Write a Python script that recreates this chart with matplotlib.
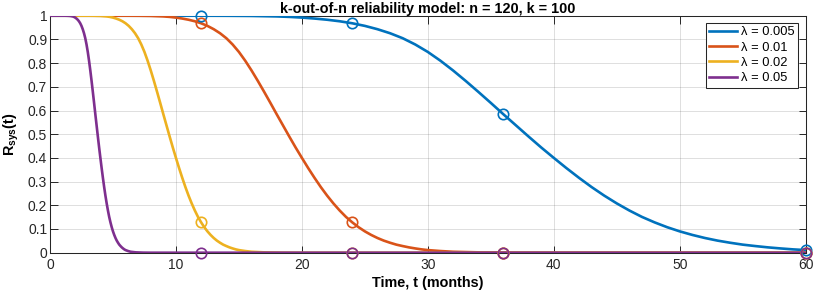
import matplotlib
matplotlib.use("Agg")
import matplotlib.pyplot as plt

plt.rcParams['font.family'] = ['Liberation Sans', 'DejaVu Sans']
plt.rcParams['mathtext.fontset'] = 'custom'
plt.rcParams['mathtext.rm'] = 'Liberation Sans'
plt.rcParams['mathtext.bf'] = 'Liberation Sans:bold'

# values
t_005 = [0, 12, 14, 16, 17, 18, 19, 20, 21, 22, 23, 24, 25, 26, 27, 28, 29, 30,
         31, 32, 33, 34, 35, 36, 37, 38, 39, 40, 41, 42, 43, 44, 45, 46, 47, 48,
         49, 50, 51, 52, 53, 54, 55, 56, 57, 58, 59, 60]
r_005 = [1.0, 1.0, 0.9997, 0.999, 0.998, 0.997, 0.995, 0.992, 0.988, 0.983,
         0.9765, 0.968, 0.957, 0.943, 0.926, 0.905, 0.8785, 0.847, 0.810, 0.769,
         0.725, 0.679, 0.632, 0.584, 0.537, 0.490, 0.444, 0.400, 0.357, 0.316,
         0.277, 0.241, 0.208, 0.178, 0.151, 0.128, 0.1076, 0.090, 0.075, 0.062,
         0.051, 0.042, 0.034, 0.028, 0.0225, 0.018, 0.014, 0.011]

t_01 = [0, 6, 7, 8, 8.5, 9, 9.5, 10, 10.5, 11, 11.5, 12, 12.5, 13, 13.5, 14,
        14.5, 15, 15.5, 16, 16.5, 17, 17.5, 18, 18.5, 19, 19.5, 20, 20.5, 21,
        21.5, 22, 22.5, 23, 23.5, 24, 24.5, 25, 25.5, 26, 26.5, 27, 27.5, 28,
        28.5, 29, 29.5, 30, 31, 32, 34, 37, 40, 60]
r_01 = [1.0, 1.0, 0.9997, 0.999, 0.998, 0.997, 0.995, 0.992, 0.988, 0.983,
        0.9765, 0.968, 0.957, 0.943, 0.926, 0.905, 0.8785, 0.847, 0.810, 0.769,
        0.725, 0.679, 0.632, 0.584, 0.537, 0.490, 0.444, 0.400, 0.357, 0.316,
        0.277, 0.241, 0.208, 0.178, 0.151, 0.128, 0.1076, 0.090, 0.075, 0.062,
        0.051, 0.042, 0.034, 0.028, 0.0225, 0.018, 0.014, 0.011, 0.007, 0.004,
        0.0015, 0.0003, 0.0, 0.0]

t_02 = [0, 3, 3.5, 4, 4.25, 4.5, 4.75, 5, 5.25, 5.5, 5.75, 6, 6.25, 6.5, 6.75,
        7, 7.25, 7.5, 7.75, 8, 8.25, 8.5, 8.75, 9, 9.25, 9.5, 9.75, 10, 10.25,
        10.5, 10.75, 11, 11.25, 11.5, 11.75, 12, 12.25, 12.5, 12.75, 13, 13.25,
        13.5, 13.75, 14, 14.25, 14.5, 14.75, 15, 15.5, 16, 17, 18.5, 20, 60]
r_02 = [1.0, 1.0, 0.9997, 0.999, 0.998, 0.997, 0.995, 0.992, 0.988, 0.983,
        0.9765, 0.968, 0.957, 0.943, 0.926, 0.905, 0.8785, 0.847, 0.810, 0.769,
        0.725, 0.679, 0.632, 0.584, 0.537, 0.490, 0.444, 0.400, 0.357, 0.316,
        0.277, 0.241, 0.208, 0.178, 0.151, 0.128, 0.1076, 0.090, 0.075, 0.062,
        0.051, 0.042, 0.034, 0.028, 0.0225, 0.018, 0.014, 0.011, 0.007, 0.004,
        0.0015, 0.0003, 0.0, 0.0]

t_05 = [0, 1.2, 1.4, 1.6, 1.7, 1.8, 1.9, 2.0, 2.1, 2.2, 2.3, 2.4, 2.5, 2.6, 2.7,
        2.8, 2.9, 3.0, 3.1, 3.2, 3.3, 3.4, 3.5, 3.6, 3.7, 3.8, 3.9, 4.0, 4.1,
        4.2, 4.3, 4.4, 4.5, 4.6, 4.7, 4.8, 4.9, 5.0, 5.1, 5.2, 5.3, 5.4, 5.5,
        5.6, 5.7, 5.8, 5.9, 6.0, 6.2, 6.4, 6.8, 7.4, 8, 60]
r_05 = [1.0, 1.0, 0.9997, 0.999, 0.998, 0.997, 0.995, 0.992, 0.988, 0.983,
        0.9765, 0.968, 0.957, 0.943, 0.926, 0.905, 0.8785, 0.847, 0.810, 0.769,
        0.725, 0.679, 0.632, 0.584, 0.537, 0.490, 0.444, 0.400, 0.357, 0.316,
        0.277, 0.241, 0.208, 0.178, 0.151, 0.128, 0.1076, 0.090, 0.075, 0.062,
        0.051, 0.042, 0.034, 0.028, 0.0225, 0.018, 0.014, 0.011, 0.007, 0.004,
        0.0015, 0.0003, 0.0, 0.0]

# circles at 12, 24, 36 and 60 months
mark_t = [12, 24, 36, 60]
mark_005 = [1.0, 0.968, 0.584, 0.011]
mark_01 = [0.968, 0.128, 0.0, 0.0]
mark_02 = [0.128, 0.0, 0.0, 0.0]
mark_05 = [0.0, 0.0, 0.0, 0.0]

labels = ["λ = 0.005", "λ = 0.01", "λ = 0.02", "λ = 0.05"]
colors = ["#0072BD", "#D95319", "#EDB120", "#7E2F8E"]

fig = plt.figure(figsize=(8.22, 2.9), dpi=100)
ax = fig.add_axes([50 / 822, 1 - 252.7 / 290, 755.7 / 822, 237 / 290])

curves = [(t_005, r_005, mark_005), (t_01, r_01, mark_01),
          (t_02, r_02, mark_02), (t_05, r_05, mark_05)]
for (t, r, m), lab, c in zip(curves, labels, colors):
    ax.plot(t, r, color=c, lw=1.9, label=lab, zorder=3)
    ax.plot(mark_t, m, ls='none', marker='o', ms=7.5, mfc='none', mec=c,
            mew=1.2, clip_on=False, zorder=4)

ax.set_xlim(0, 60)
ax.set_ylim(0, 1)
ax.set_xticks([0, 10, 20, 30, 40, 50, 60])
ax.set_yticks([0, 0.1, 0.2, 0.3, 0.4, 0.5, 0.6, 0.7, 0.8, 0.9, 1])
ax.set_yticklabels(["0", "0.1", "0.2", "0.3", "0.4", "0.5", "0.6", "0.7",
                    "0.8", "0.9", "1"])
ax.tick_params(direction='in', length=5.4, width=0.7, top=True, right=True,
               labelsize=10, colors='#262626')
ax.tick_params(axis='x', pad=3.5)
ax.tick_params(axis='y', pad=2)
for s in ax.spines.values():
    s.set_color('#262626')
    s.set_linewidth(0.75)

ax.grid(True, color='#262626', alpha=0.15, lw=0.7)
ax.set_axisbelow(True)

ax.set_title("k-out-of-n reliability model: n = 120, k = 100",
             fontsize=10.4, fontweight='bold', pad=2)
ax.set_xlabel("Time, t (months)", fontsize=10.4, fontweight='bold', labelpad=3)
ax.set_ylabel(r"$\mathbf{R_{sys}(t)}$", fontsize=10.4, labelpad=5)

leg = ax.legend(loc='upper right', fontsize=9.3, fancybox=False, framealpha=1,
                edgecolor='#262626', borderaxespad=0.58, handlelength=2.17,
                handletextpad=0.3, labelspacing=0.25, borderpad=0.25)
leg.get_frame().set_linewidth(0.75)

fig.savefig("out.png", dpi=100)
